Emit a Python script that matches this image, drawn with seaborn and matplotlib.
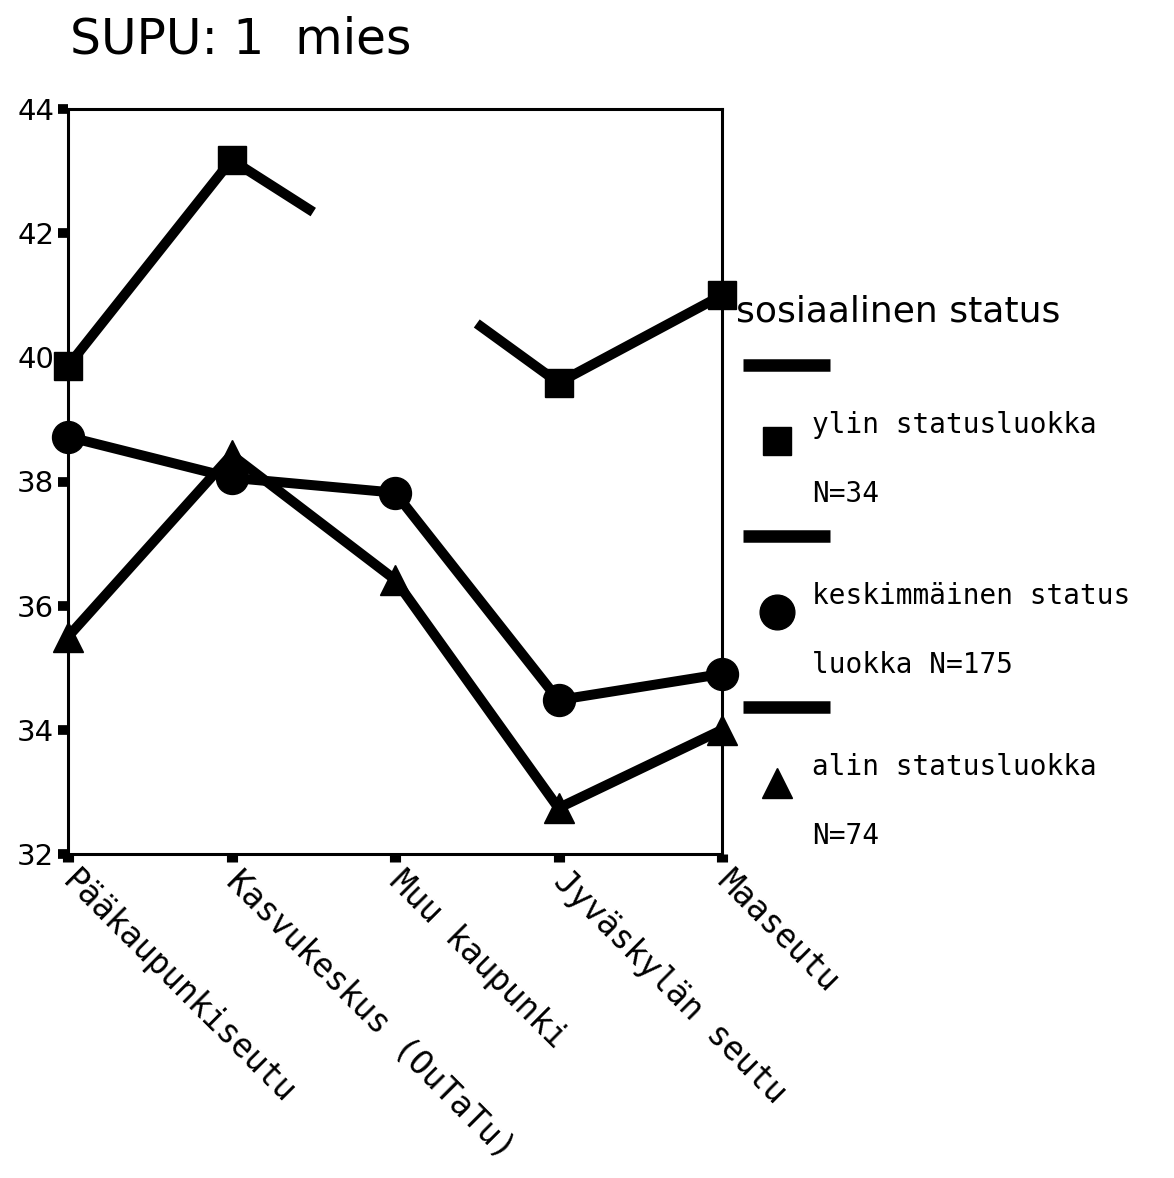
import numpy as np
import pandas as pd
import matplotlib.pyplot as plt
import seaborn as sns
from matplotlib.lines import Line2D

sns.set_theme(style="white")
plt.rcParams['font.family'] = ['DejaVu Sans']
plt.rcParams['text.color'] = 'black'
plt.rcParams['xtick.color'] = 'black'
plt.rcParams['ytick.color'] = 'black'

# data
alueet = ["Pääkaupunkiseutu", "Kasvukeskus (OuTaTu)", "Muu kaupunki",
          "Jyväskylän seutu", "Maaseutu"]
ylin = [39.86, 43.18, 41.5, 39.59, 41.0]
ylin_shown = [True, True, False, True, True]   # Muu kaupunki point not drawn
keski = [38.72, 38.06, 37.82, 34.48, 34.9]
alin = [35.5, 38.43, 36.42, 32.74, 34.0]

ryhmat = ["ylin statusluokka", "keskimmäinen status", "alin statusluokka"]
ryhma_rivi2 = ["N=34", "luokka N=175", "N=74"]
merkit = ["s", "o", "^"]
yticks = [32, 34, 36, 38, 40, 42, 44]

W, H = 1174, 1178
fig = plt.figure(figsize=(W / 100, H / 100), dpi=100)
ax = fig.add_axes([68 / W, 1 - 854 / H, (722 - 68) / W, (854 - 109) / H])

x = np.arange(len(alueet))
LW = 7.2
MS = {"s": 19.5, "o": 23, "^": 22}


def segments(vals, shown):
    # split a series into line pieces; a hidden point only gets half segments
    out = []
    for i in range(len(vals) - 1):
        if not shown[i] and not shown[i + 1]:
            continue
        x0, x1 = float(i), float(i + 1)
        y0, y1 = vals[i], vals[i + 1]
        mx, my = (x0 + x1) / 2, (y0 + y1) / 2
        if not shown[i]:
            x0, y0 = mx, my
        if not shown[i + 1]:
            x1, y1 = mx, my
        out.append(([x0, x1], [y0, y1]))
    return out


series = [(ylin, ylin_shown, "s"), (keski, [True] * 5, "o"), (alin, [True] * 5, "^")]
for vals, shown, m in series:
    if all(shown):
        df = pd.DataFrame({"x": x, "y": vals})
        sns.lineplot(data=df, x="x", y="y", ax=ax, color="black", lw=LW,
                     sort=False, legend=False)
    else:
        for sx, sy in segments(vals, shown):
            df = pd.DataFrame({"x": sx, "y": sy})
            sns.lineplot(data=df, x="x", y="y", ax=ax, color="black", lw=LW,
                         sort=False, legend=False, solid_capstyle="butt")
    xs = [xi for xi, s in zip(x, shown) if s]
    ys = [v for v, s in zip(vals, shown) if s]
    ax.plot(xs, ys, ls="none", marker=m, ms=MS[m], color="black", clip_on=False)

ax.set_xlim(0, 4)
ax.set_ylim(32, 44)
ax.set_yticks(yticks)
ax.set_yticklabels([str(t) for t in yticks])
ax.set_xticks(x)
ax.set_xticklabels(alueet, family="DejaVu Sans Mono", fontsize=23.5)
plt.setp(ax.get_xticklabels(), rotation=-45, ha="left", va="center",
         rotation_mode="anchor")
ax.set_xlabel("")
ax.set_ylabel("")
ax.tick_params(axis="y", left=True, direction="out", length=7, width=7, pad=3,
               labelsize=21, color="black")
ax.tick_params(axis="x", bottom=True, direction="out", length=6, width=8, pad=10,
               color="black")
for sp in ax.spines.values():
    sp.set_visible(True)
    sp.set_color("black")
    sp.set_linewidth(2.2)

fig.text(70 / W, 1 - 53 / H, "SUPU: 1  mies", fontsize=35, va="baseline")

# legend, drawn by hand to follow the original layout
fig.text(736 / W, 1 - 322 / H, "sosiaalinen status", fontsize=26, va="baseline")
legend_ms = {"s": 20, "o": 25, "^": 22}
for i, (lab, lab2, m) in enumerate(zip(ryhmat, ryhma_rivi2, merkit)):
    off = i * 171
    fig.add_artist(Line2D([743 / W, 830 / W], [1 - (365 + off) / H] * 2,
                          color="black", lw=9, solid_capstyle="butt"))
    fig.add_artist(Line2D([777 / W], [1 - (441 + off) / H], marker=m,
                          ms=legend_ms[m], color="black", ls="none"))
    fig.text(812 / W, 1 - (433 + off) / H, lab, fontsize=20,
             family="DejaVu Sans Mono", va="baseline")
    fig.text(812 / W, 1 - (502 + off) / H, lab2, fontsize=20,
             family="DejaVu Sans Mono", va="baseline")

fig.savefig("out.png", dpi=100, facecolor="white")
